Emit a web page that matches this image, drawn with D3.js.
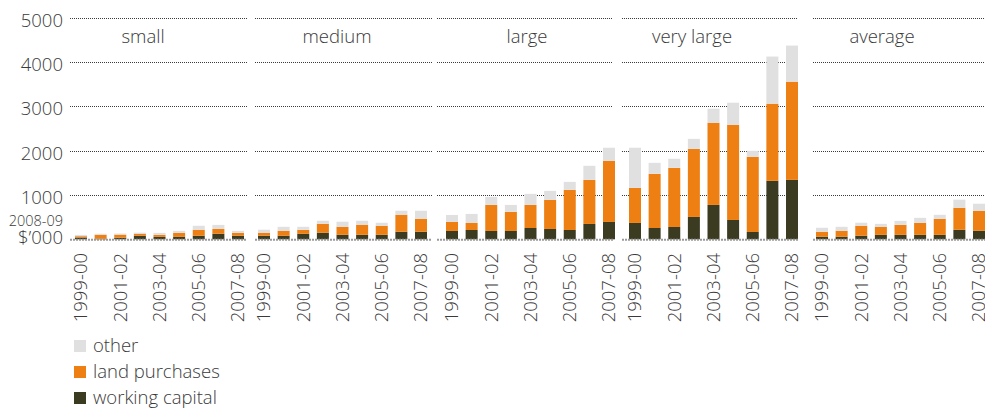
<!DOCTYPE html>
<html>
<head>
<meta charset="utf-8">
<script src="https://cdn.jsdelivr.net/npm/d3@7/dist/d3.min.js"></script>
<style>
  html, body { margin: 0; padding: 0; background: #fff; }
  svg { display: block; font-family: "Open Sans", "Noto Sans", sans-serif; font-weight: 300; }
</style>
</head>
<body>
<svg id="chart" width="985" height="412"></svg>
<script>
// ---- data ----
const years = ["1999-00","2000-01","2001-02","2002-03","2003-04","2004-05","2005-06","2006-07","2007-08"];
const tickYears = ["1999-00","2001-02","2003-04","2005-06","2007-08"];
const groups = ["small","medium","large","very large","average"];
const seriesNames = ["working capital","land purchases","other"];
const yTicks = [1000, 2000, 3000, 4000, 5000];

// values in $'000, one row per farm-size group, one entry per year
const workingCapital = [
  [40, 10, 35, 80, 55, 55, 80, 125, 80],
  [80, 79, 124, 147, 102, 102, 102, 170, 170],
  [188, 210, 188, 188, 255, 233, 210, 346, 391],
  [369, 255, 278, 504, 775, 436, 165, 1318, 1340],
  [57, 57, 80, 100, 100, 100, 100, 215, 192]
];
const landPurchases = [
  [30, 90, 70, 45, 45, 90, 135, 110, 65],
  [68, 113, 90, 203, 181, 226, 203, 384, 294],
  [203, 158, 587, 429, 520, 655, 904, 994, 1379],
  [790, 1221, 1333, 1534, 1853, 2146, 1695, 1739, 2214],
  [113, 135, 226, 180, 226, 271, 362, 497, 452]
];
const other = [
  [30, 25, 25, 25, 45, 45, 90, 90, 45],
  [68, 90, 68, 68, 113, 90, 68, 90, 180],
  [158, 204, 181, 158, 249, 204, 181, 317, 294],
  [905, 248, 204, 226, 315, 497, 135, 1063, 813],
  [90, 90, 68, 68, 90, 113, 90, 181, 158]
];

// ---- layout ----
const colors = {"working capital": "#3b3b22", "land purchases": "#ee7f12", "other": "#e0e0e0"};
const barStart = [75, 258, 446, 629, 816];
const barSpan = 169;
const gridExtent = [[70, 247], [255, 432], [437, 613], [622, 798], [813, 985]];
const titleX = [143, 337, 527, 692, 882];
const textColor = "#3a3a3a";

const svg = d3.select("#chart");
const y = d3.scaleLinear().domain([0, 5000]).range([239.3, 17.5]);

// y-axis labels
const yAxisG = svg.append("g");
yAxisG.selectAll("text.ytick").data(yTicks).join("text")
  .attr("class", "ytick")
  .attr("x", 63).attr("y", d => y(d) + 9)
  .attr("text-anchor", "end")
  .attr("font-size", 18.5).attr("fill", textColor)
  .text(d => d);
yAxisG.append("text")
  .attr("x", 63).attr("y", y(0) + 5)
  .attr("text-anchor", "end").attr("font-size", 18.5).attr("fill", textColor)
  .text("$\u2019000");
yAxisG.append("text")
  .attr("x", 63).attr("y", 225.5)
  .attr("text-anchor", "end").attr("font-size", 14.5).attr("fill", textColor)
  .text("2008-09");

groups.forEach((g, gi) => {
  const x = d3.scaleBand().domain(years)
    .range([barStart[gi], barStart[gi] + barSpan])
    .paddingInner(0.3885).paddingOuter(0);
  const panel = svg.append("g");
  const [gx0, gx1] = gridExtent[gi];

  // gridlines
  panel.selectAll("line.grid").data(yTicks).join("line")
    .attr("class", "grid")
    .attr("x1", gx0).attr("x2", gx1)
    .attr("y1", d => Math.round(y(d)) + 0.5).attr("y2", d => Math.round(y(d)) + 0.5)
    .attr("stroke", "#3a3a3a").attr("stroke-width", 1)
    .attr("stroke-dasharray", "1,1");

  // title
  panel.append("text")
    .attr("x", titleX[gi]).attr("y", 43)
    .attr("text-anchor", "middle").attr("font-size", 18.5).attr("fill", textColor)
    .text(g);

  // stacked bars
  const rows = years.map((yr, i) => ({
    year: yr,
    "working capital": workingCapital[gi][i],
    "land purchases": landPurchases[gi][i],
    "other": other[gi][i]
  }));
  const stacked = d3.stack().keys(seriesNames)(rows);
  panel.selectAll("g.series").data(stacked).join("g")
    .attr("class", "series")
    .attr("fill", d => colors[d.key])
    .selectAll("rect").data(d => d).join("rect")
      .attr("x", d => x(d.data.year))
      .attr("width", x.bandwidth())
      .attr("y", d => y(d[1]))
      .attr("height", d => y(d[0]) - y(d[1]));

  // baseline (zero) line
  panel.append("line")
    .attr("x1", gx0).attr("x2", gx1)
    .attr("y1", y(0) + 0.5).attr("y2", y(0) + 0.5)
    .attr("stroke", "#9a9a9a").attr("stroke-width", 2)
    .attr("stroke-dasharray", "2,1");

  // x tick labels (rotated)
  panel.selectAll("text.xtick").data(tickYears).join("text")
    .attr("class", "xtick")
    .attr("transform", d => `translate(${x(d) + x.bandwidth() / 2},253) rotate(-90)`)
    .attr("text-anchor", "end").attr("dy", "0.35em")
    .attr("font-size", 18.5).attr("fill", textColor)
    .text(d => d);
});

// legend
const legendItems = ["other", "land purchases", "working capital"];
const legend = svg.append("g");
legendItems.forEach((name, i) => {
  const yy = 340 + i * 26;
  legend.append("rect").attr("x", 74).attr("y", yy).attr("width", 12).attr("height", 12)
    .attr("fill", colors[name]);
  legend.append("text").attr("x", 93).attr("y", yy + 11.5)
    .attr("font-size", 18.5).attr("fill", textColor).text(name);
});
</script>
</body>
</html>
